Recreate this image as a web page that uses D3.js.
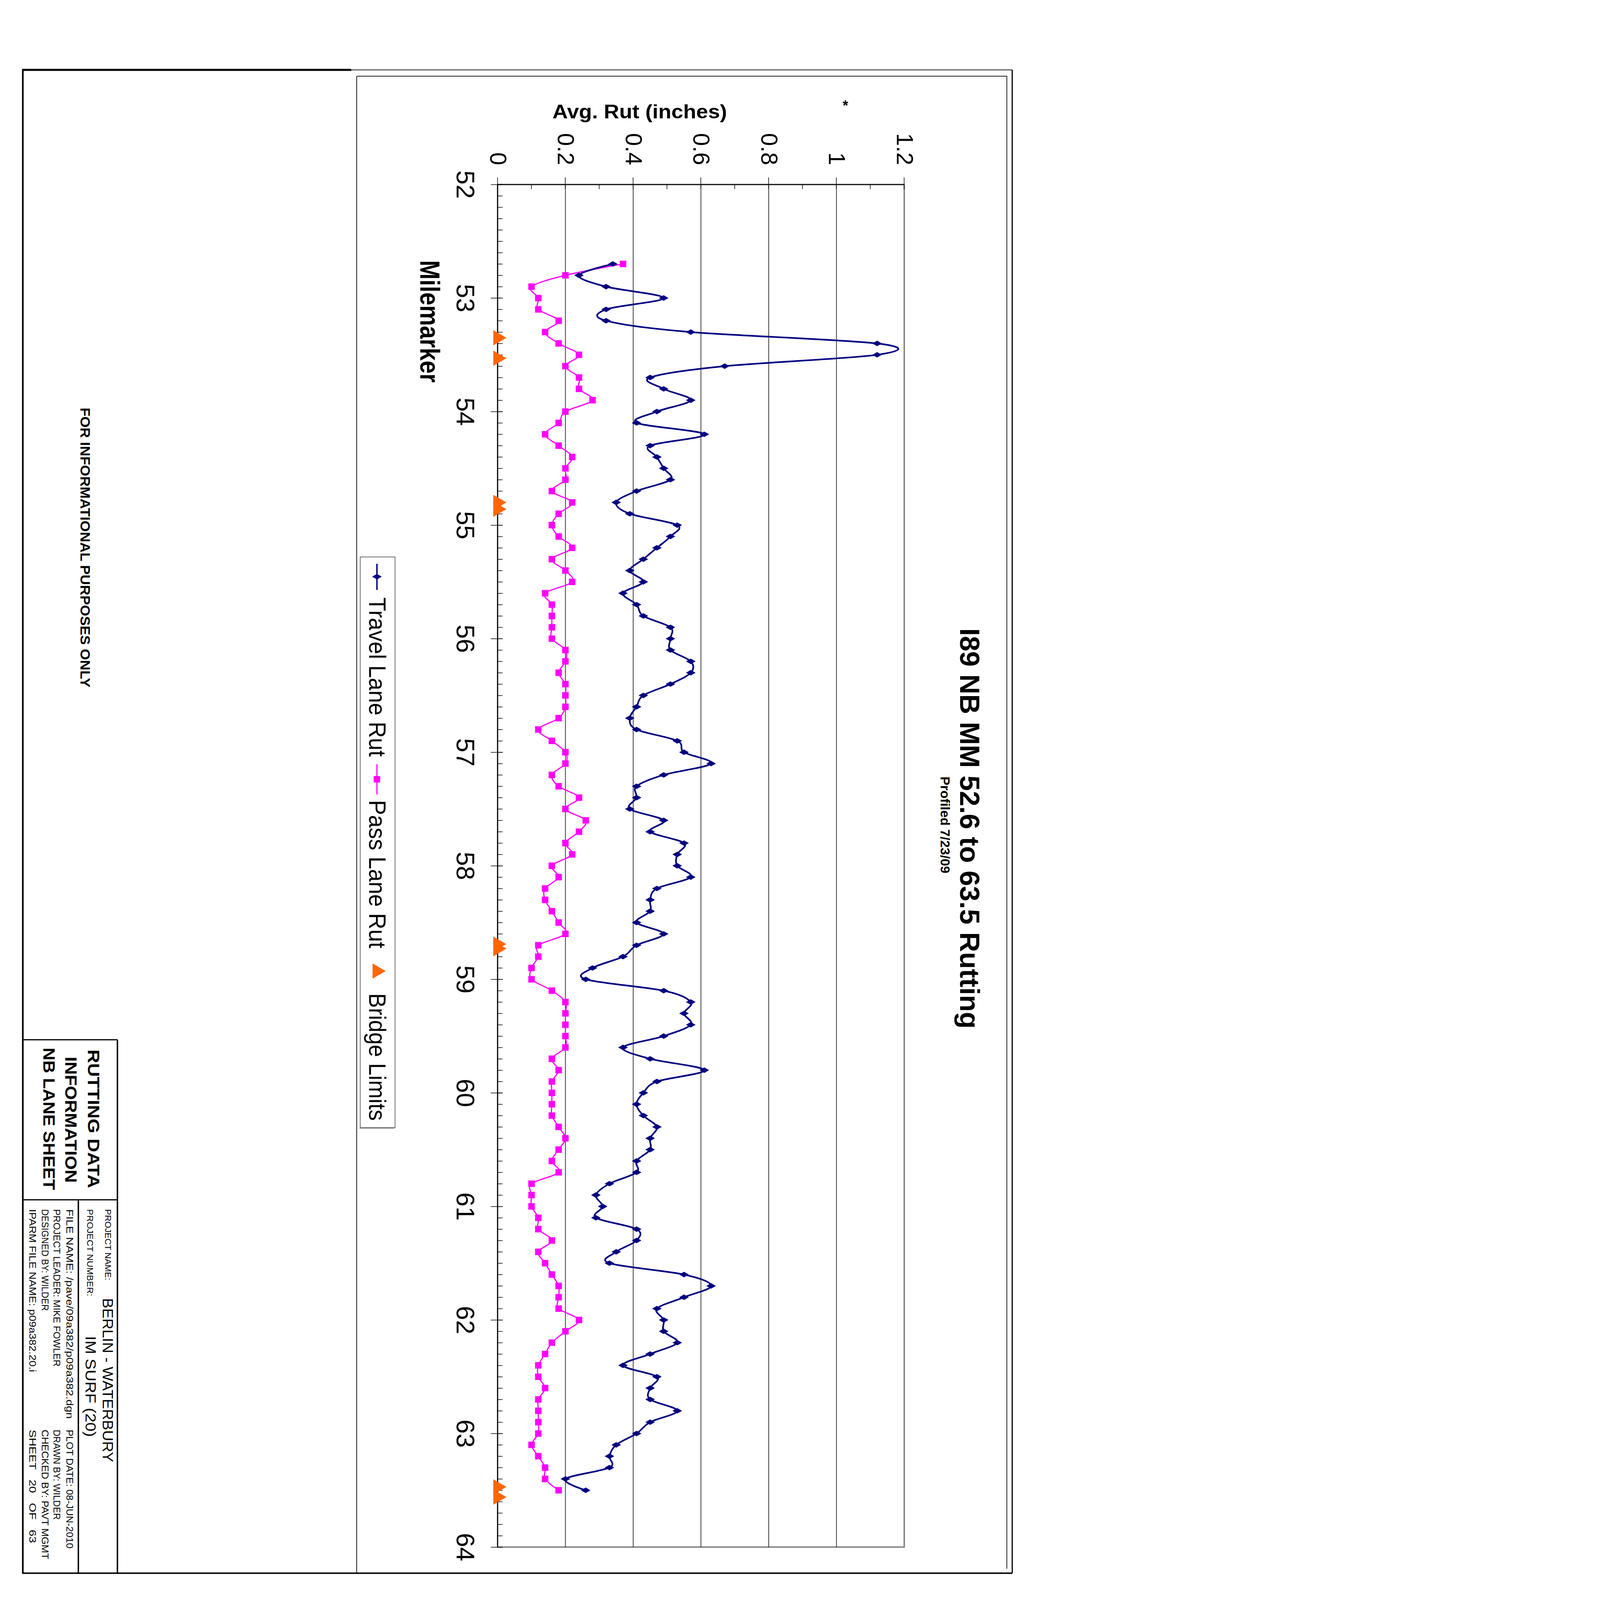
<!DOCTYPE html>
<html lang="en">
<head>
  <meta charset="UTF-8">
  <title>I89 NB MM 52.6 to 63.5 Rutting</title>
  <style>
    html, body {
      margin: 0;
      padding: 0;
      background: #ffffff;
      overflow: hidden;
    }
    #chart svg {
      display: block;
      width: 100vw;
      height: 100vh;
    }
    svg text {
      font-family: "Liberation Sans", Arial, sans-serif;
      fill: #000;
    }
    .narrow {
      font-family: "Liberation Sans Narrow", "Arial Narrow", "Liberation Sans", Arial, sans-serif;
    }
  </style>
</head>
<body>
  <div id="chart"></div>

  <script src="https://d3js.org/d3.v7.min.js"></script>
  <script>
    // milemarker of each 0.1 mile reading
    const mileposts = [
      52.7, 52.8, 52.9,
      53.0, 53.1, 53.2, 53.3, 53.4, 53.5, 53.6, 53.7, 53.8, 53.9,
      54.0, 54.1, 54.2, 54.3, 54.4, 54.5, 54.6, 54.7, 54.8, 54.9,
      55.0, 55.1, 55.2, 55.3, 55.4, 55.5, 55.6, 55.7, 55.8, 55.9,
      56.0, 56.1, 56.2, 56.3, 56.4, 56.5, 56.6, 56.7, 56.8, 56.9,
      57.0, 57.1, 57.2, 57.3, 57.4, 57.5, 57.6, 57.7, 57.8, 57.9,
      58.0, 58.1, 58.2, 58.3, 58.4, 58.5, 58.6, 58.7, 58.8, 58.9,
      59.0, 59.1, 59.2, 59.3, 59.4, 59.5, 59.6, 59.7, 59.8, 59.9,
      60.0, 60.1, 60.2, 60.3, 60.4, 60.5, 60.6, 60.7, 60.8, 60.9,
      61.0, 61.1, 61.2, 61.3, 61.4, 61.5, 61.6, 61.7, 61.8, 61.9,
      62.0, 62.1, 62.2, 62.3, 62.4, 62.5, 62.6, 62.7, 62.8, 62.9,
      63.0, 63.1, 63.2, 63.3, 63.4, 63.5
    ];

    const travelRut = [
      0.34, 0.24, 0.32,
      0.49, 0.32, 0.32, 0.57, 1.12, 1.12, 0.67, 0.45, 0.49, 0.57,
      0.47, 0.41, 0.61, 0.45, 0.47, 0.49, 0.51, 0.41, 0.35, 0.39,
      0.53, 0.51, 0.47, 0.43, 0.39, 0.43, 0.37, 0.41, 0.43, 0.51,
      0.51, 0.51, 0.57, 0.57, 0.51, 0.43, 0.41, 0.39, 0.41, 0.53,
      0.55, 0.63, 0.49, 0.41, 0.41, 0.39, 0.49, 0.45, 0.55, 0.53,
      0.53, 0.57, 0.47, 0.45, 0.45, 0.41, 0.49, 0.41, 0.37, 0.28,
      0.26, 0.49, 0.57, 0.55, 0.57, 0.49, 0.37, 0.45, 0.61, 0.47,
      0.43, 0.41, 0.43, 0.47, 0.45, 0.45, 0.41, 0.41, 0.33, 0.29,
      0.31, 0.29, 0.41, 0.41, 0.35, 0.33, 0.55, 0.63, 0.55, 0.47,
      0.49, 0.49, 0.53, 0.45, 0.37, 0.47, 0.45, 0.45, 0.53, 0.45,
      0.41, 0.35, 0.33, 0.33, 0.20, 0.26
    ];

    const passRut = [
      0.37, 0.20, 0.10,
      0.12, 0.12, 0.18, 0.14, 0.18, 0.24, 0.20, 0.24, 0.24, 0.28,
      0.20, 0.18, 0.14, 0.18, 0.22, 0.20, 0.20, 0.16, 0.22, 0.18,
      0.16, 0.18, 0.22, 0.16, 0.20, 0.22, 0.14, 0.16, 0.16, 0.16,
      0.16, 0.20, 0.20, 0.18, 0.20, 0.20, 0.20, 0.18, 0.12, 0.16,
      0.20, 0.20, 0.16, 0.18, 0.24, 0.20, 0.26, 0.24, 0.20, 0.22,
      0.16, 0.18, 0.14, 0.14, 0.16, 0.18, 0.20, 0.12, 0.12, 0.10,
      0.10, 0.16, 0.20, 0.20, 0.20, 0.20, 0.20, 0.16, 0.18, 0.16,
      0.16, 0.16, 0.16, 0.18, 0.20, 0.18, 0.16, 0.18, 0.10, 0.10,
      0.10, 0.12, 0.12, 0.16, 0.12, 0.14, 0.16, 0.18, 0.18, 0.18,
      0.24, 0.20, 0.16, 0.14, 0.12, 0.12, 0.14, 0.12, 0.12, 0.12,
      0.12, 0.10, 0.12, 0.14, 0.14, 0.18
    ];

    // bridge limits, drawn on the zero line
    const bridgeMiles = [53.35, 53.53, 54.80, 54.86, 58.69, 58.73, 63.47, 63.56];

    const mileTicks = [52, 53, 54, 55, 56, 57, 58, 59, 60, 61, 62, 63, 64];
    const rutTicks = [0, 0.2, 0.4, 0.6, 0.8, 1, 1.2];

    const W = 4400;
    const H = 6800;

    const svg = d3.select("#chart")
      .append("svg")
      .attr("viewBox", `0 0 ${W} ${H}`)
      .attr("preserveAspectRatio", "xMinYMin meet");

    svg.append("rect").attr("width", W).attr("height", H).attr("fill", "#fff");

    // the sheet is printed landscape and turned a quarter clockwise
    const page = svg.append("g").attr("transform", `translate(${W},0) rotate(90)`);

    function rule(u1, v1, u2, v2, w, color) {
      page.append("line")
        .attr("x1", u1).attr("y1", v1).attr("x2", u2).attr("y2", v2)
        .attr("stroke", color || "#000")
        .attr("stroke-width", w);
    }

    function label(txt, u, v, size, opts) {
      opts = opts || {};
      const t = page.append("text")
        .attr("x", u)
        .attr("y", v)
        .attr("font-size", size)
        .attr("font-weight", opts.bold ? "bold" : "normal")
        .attr("text-anchor", opts.anchor || "start")
        .style("white-space", "pre")
        .text(txt);
      if (opts.narrow) t.attr("class", "narrow");
      if (opts.len) t.attr("textLength", opts.len).attr("lengthAdjust", "spacingAndGlyphs");
      return t;
    }

    // ---- sheet border and chart area
    rule(297, 4303, 6686, 4303, 7);
    rule(297, 2907, 297, 4306, 9);
    rule(297, 98, 297, 2907, 3);
    rule(297, 98, 6686, 98, 5);
    rule(6686, 98, 6686, 4306, 6);

    rule(324, 2884, 6686, 2884, 3);
    rule(324, 121, 324, 2884, 3);
    rule(324, 121, 6667, 121, 3);

    // ---- title block
    rule(4419, 3901, 4419, 4303, 5);
    rule(4419, 3901, 6686, 3901, 6);
    rule(5099, 3901, 5099, 4303, 5);
    rule(5099, 4067, 6686, 4067, 6);

    label("RUTTING DATA", 4755, 4027, 72, { bold: true, narrow: true, anchor: "middle", len: 589 });
    label("INFORMATION", 4759, 4122, 72, { bold: true, narrow: true, anchor: "middle", len: 536 });
    label("NB LANE SHEET", 4755, 4215, 72, { bold: true, narrow: true, anchor: "middle", len: 605 });

    label("PROJECT NAME:", 5139, 3953, 38, { narrow: true, len: 302 });
    label("BERLIN - WATERBURY", 5517, 3963, 60, { narrow: true, len: 697 });
    label("PROJECT NUMBER:", 5139, 4030, 38, { narrow: true, len: 370 });
    label("IM SURF (20)", 5678, 4036, 60, { narrow: true, len: 429 });

    label("FILE NAME: /pave/09a382/p09a382.dgn", 5139, 4118, 40, { narrow: true, len: 891 });
    label("PLOT DATE: 08-JUN-2010", 6076, 4118, 40, { narrow: true, len: 505 });
    label("PROJECT LEADER: MIKE FOWLER", 5139, 4172, 40, { narrow: true, len: 669 });
    label("DRAWN BY: WILDER", 6076, 4172, 40, { narrow: true, len: 383 });
    label("DESIGNED BY: WILDER", 5139, 4223, 40, { narrow: true, len: 432 });
    label("CHECKED BY: PAVT MGMT", 6076, 4223, 40, { narrow: true, len: 551 });
    label("IPARM FILE NAME: p09a382.20.i", 5139, 4275, 40, { narrow: true, len: 692 });
    label("SHEET   20   OF   63", 6076, 4275, 40, { narrow: true, len: 482 });

    label("FOR INFORMATIONAL PURPOSES ONLY", 2327, 4058, 58, { bold: true, narrow: true, anchor: "middle", len: 1189 });

    // ---- chart
    const x = d3.scaleLinear().domain([52, 64]).range([784, 6575]);
    const y = d3.scaleLinear().domain([0, 1.2]).range([2285, 557]);

    label("I89 NB MM 52.6 to 63.5 Rutting", 3521, 320, 118, { bold: true, anchor: "middle", len: 1702 });
    label("Profiled 7/23/09", 3506, 402, 54, { bold: true, narrow: true, anchor: "middle", len: 412 });

    // plot area frame
    page.append("rect")
      .attr("x", x(52)).attr("y", y(1.2))
      .attr("width", x(64) - x(52)).attr("height", y(0) - y(1.2))
      .attr("fill", "none")
      .attr("stroke", "#808080")
      .attr("stroke-width", 6);

    // gridlines
    page.append("g")
      .selectAll("line")
      .data(rutTicks.filter((d) => d > 0 && d < 1.2))
      .enter()
      .append("line")
      .attr("x1", x(52)).attr("x2", x(64))
      .attr("y1", (d) => y(d)).attr("y2", (d) => y(d))
      .attr("stroke", "#000")
      .attr("stroke-width", 2.5);

    // value axis, on the 52 side
    const yAxisG = page.append("g")
      .attr("transform", `translate(${x(52)},0)`)
      .call(d3.axisLeft(y).tickValues(rutTicks).tickSize(30).tickPadding(52)
        .tickSizeOuter(0).tickFormat(d3.format("~g")));
    page.append("g")
      .attr("transform", `translate(${x(52)},0)`)
      .call(d3.axisLeft(y).tickValues(y.ticks(12)).tickSize(-20).tickSizeOuter(0).tickFormat(""));

    // milemarker axis, on the zero line
    const xAxisG = page.append("g")
      .attr("transform", `translate(0,${y(0)})`)
      .call(d3.axisBottom(x).tickValues(mileTicks).tickSize(29).tickPadding(68)
        .tickSizeOuter(0).tickFormat(d3.format("d")));
    xAxisG.selectAll(".tick line").attr("y1", -21);
    page.append("g")
      .attr("transform", `translate(0,${y(0)})`)
      .call(d3.axisBottom(x).tickValues(x.ticks(120)).tickSize(-21).tickSizeOuter(0).tickFormat(""));

    page.selectAll(".domain").attr("stroke", "#000").attr("stroke-width", 3);
    page.selectAll(".tick line").attr("stroke", "#000").attr("stroke-width", 2.5);
    yAxisG.selectAll(".tick text")
      .attr("class", "narrow")
      .attr("font-size", 98)
      .attr("fill", "#000");
    xAxisG.selectAll(".tick text")
      .attr("class", "narrow")
      .attr("font-size", 108)
      .attr("fill", "#000");

    // axis titles
    page.append("text")
      .attr("transform", `translate(503,${W - 2719}) rotate(-90)`)
      .attr("text-anchor", "middle")
      .attr("font-size", 82)
      .attr("font-weight", "bold")
      .attr("textLength", 742)
      .attr("lengthAdjust", "spacingAndGlyphs")
      .attr("class", "narrow")
      .text("Avg. Rut (inches)");
    page.append("text")
      .attr("transform", `translate(470,${W - 3593}) rotate(-90)`)
      .attr("text-anchor", "middle")
      .attr("font-size", 60)
      .attr("font-weight", "bold")
      .text("*");
    label("Milemarker", 1366, 2614, 118, { bold: true, anchor: "middle", len: 520 });

    // series
    const travel = mileposts.map((m, i) => ({ m: m, v: travelRut[i] }));
    const pass = mileposts.map((m, i) => ({ m: m, v: passRut[i] }));

    const line = d3.line()
      .x((d) => x(d.m))
      .y((d) => y(d.v))
      .curve(d3.curveCatmullRom.alpha(0));

    page.append("path")
      .datum(pass)
      .attr("d", line)
      .attr("fill", "none")
      .attr("stroke", "#ff00ff")
      .attr("stroke-width", 5);

    page.append("path")
      .datum(travel)
      .attr("d", line)
      .attr("fill", "none")
      .attr("stroke", "#000080")
      .attr("stroke-width", 7);

    const diamond = d3.symbol().type(d3.symbolDiamond).size(480);
    const square = d3.symbol().type(d3.symbolSquare).size(760);
    const tri = d3.symbol().type(d3.symbolTriangle).size(1800);

    page.append("g")
      .selectAll("path")
      .data(pass)
      .enter()
      .append("path")
      .attr("d", square)
      .attr("transform", (d) => `translate(${x(d.m)},${y(d.v)})`)
      .attr("fill", "#ff00ff");

    page.append("g")
      .selectAll("path")
      .data(travel)
      .enter()
      .append("path")
      .attr("d", diamond)
      .attr("transform", (d) => `translate(${x(d.m)},${y(d.v)})`)
      .attr("fill", "#000080");

    page.append("g")
      .selectAll("path")
      .data(bridgeMiles)
      .enter()
      .append("path")
      .attr("d", tri)
      .attr("transform", (d) => `translate(${x(d)},${y(0)})`)
      .attr("fill", "#ff6600");

    // ---- legend
    page.append("rect")
      .attr("x", 2367).attr("y", 2721)
      .attr("width", 2425).attr("height", 148)
      .attr("fill", "#fff")
      .attr("stroke", "#606060")
      .attr("stroke-width", 3);
    rule(2367 + 2425 + 3, 2724, 2367 + 2425 + 3, 2872, 4, "#909090");

    rule(2396, 2798, 2507, 2798, 6, "#000080");
    page.append("path").attr("d", diamond).attr("transform", "translate(2451,2798)").attr("fill", "#000080");
    label("Travel Lane Rut", 2539, 2831, 100, { narrow: true, len: 677 });

    rule(3248, 2798, 3376, 2798, 5, "#ff00ff");
    page.append("path").attr("d", square).attr("transform", "translate(3312,2798)").attr("fill", "#ff00ff");
    label("Pass Lane Rut", 3400, 2831, 100, { narrow: true, len: 630 });

    page.append("path").attr("d", tri).attr("transform", "translate(4127,2798)").attr("fill", "#ff6600");
    label("Bridge Limits", 4221, 2831, 100, { narrow: true, len: 542 });
  </script>
</body>
</html>
